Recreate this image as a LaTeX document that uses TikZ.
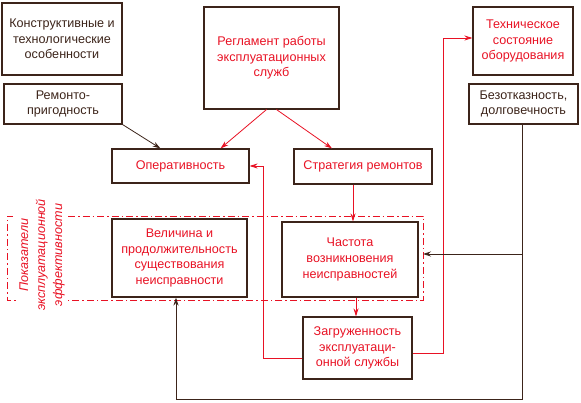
\documentclass[tikz,border=0pt]{standalone}
\usepackage{fontspec}
\setmainfont{Liberation Sans}
\usepackage{tikz}
\usetikzlibrary{arrows.meta,calc}

\definecolor{schred}{RGB}{232,18,36}
\definecolor{schbrown}{RGB}{60,36,26}

\tikzset{
  box/.style={draw=schbrown, line width=1.1pt, align=center, inner sep=1pt,
    font=\fontsize{12.6}{15.6}\selectfont},
  darkbox/.style={box, text=schbrown},
  redbox/.style={box, text=schred},
  redarr/.style={->, draw=schred, line width=0.8pt},
  darkarr/.style={->, draw=schbrown, line width=0.8pt},
}

\begin{document}
\begin{tikzpicture}[x=1pt, y=-1pt, >={Stealth[length=8pt,width=5pt]}]
    \useasboundingbox (0,0) rectangle (581,403);

    % Boxes, top row
    \node[darkbox, minimum width=120pt, minimum height=72pt] (konstr) at (62,39)
        {Конструктивные и\\технологические\\особенности};
    \node[darkbox, minimum width=118pt, minimum height=40pt] (remont) at (63,104)
        {Ремонто-\\пригодность};
    \node[redbox, minimum width=135pt, minimum height=102pt] (reglam) at (271.5,58)
        {Регламент работы\\эксплуатационных\\служб};
    \node[redbox, minimum width=100pt, minimum height=68pt] (tehsost) at (523,41)
        {Техническое\\состояние\\оборудования};
    \node[darkbox, minimum width=109pt, minimum height=40pt] (bezotk) at (523.5,104)
        {Безотказность,\\долговечность};

    % Middle row
    \node[redbox, minimum width=137pt, minimum height=34pt] (operat) at (180.5,166)
        {Оперативность};
    \node[redbox, minimum width=138pt, minimum height=35pt] (strat) at (363,166.5)
        {Стратегия ремонтов};

    % Indicators
    \node[redbox, minimum width=135pt, minimum height=78pt] (velich) at (179.5,258)
        {Величина и\\продолжительность\\существования\\неисправности};
    \node[redbox, minimum width=136pt, minimum height=75pt] (chast) at (350,259.5)
        {Частота\\возникновения\\неисправностей};
    \node[redbox, minimum width=109pt, minimum height=62pt] (zagr) at (357.5,348)
        {Загруженность\\эксплуатаци-\\онной службы};

    % Dash-dot frame with label
    \draw[schred, line width=0.8pt, dash pattern=on 7pt off 3pt on 1.5pt off 3pt]
        (68,216) -- (423,216) -- (423,300) -- (68,300)
        (13,216) -- (7,216) -- (7,300) -- (18,300);
    \node[rotate=90, align=center, text=schred,
        font=\fontsize{12.6}{17}\selectfont\itshape] (pokaz) at (42,255)
        {Показатели\\эксплуатационной\\эффективности};

    % Connectors
    \draw[darkarr] (remont.south east) -- ([xshift=-20pt]operat.north);
    \draw[redarr] ([xshift=-5pt]reglam.south) -- ([xshift=40pt]operat.north);
    \draw[redarr] ([xshift=5pt]reglam.south) -- ([xshift=-31pt]strat.north);
    \draw[redarr] ([xshift=-10pt]strat.south) -- ([xshift=3pt]chast.north);
    \draw[redarr] ([xshift=6pt]chast.south) -- ([xshift=-1.5pt]zagr.north);
    \draw[redarr] ([yshift=-5pt]zagr.east) -| (443,38) -- ([yshift=3pt]tehsost.west);
    \draw[redarr] ([yshift=-10pt]zagr.west) -| ([xshift=14pt]operat.east) -- (operat.east);

    % Feedback from reliability
    \coordinate (fbcorner) at (522,399);
    \draw[darkarr] ([xshift=-1.5pt]bezotk.south) -- (fbcorner) -| ([xshift=-3.5pt]velich.south);
    \draw[darkarr] ([xshift=-1.5pt]bezotk.south |- 0,254) -- (423,254);
\end{tikzpicture}
\end{document}
